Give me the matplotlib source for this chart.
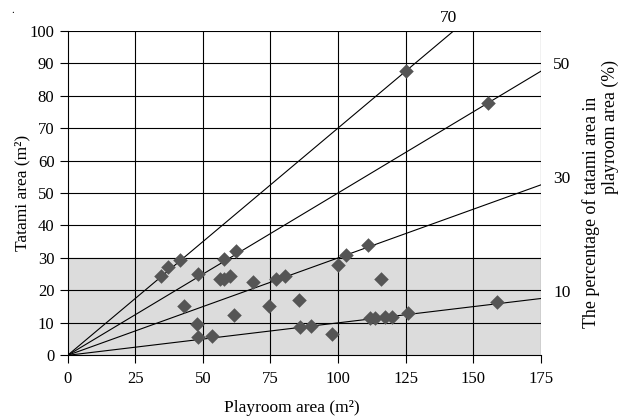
import matplotlib.pyplot as plt
import numpy as np

plt.rcParams['font.family'] = ['Liberation Serif', 'DejaVu Serif']

# playroom area (m2) vs tatami area (m2)
playroom = [34.5, 37.0, 41.7, 48.4, 58.0, 62.4, 56.5, 57.7, 60.2, 68.6,
            42.9, 61.7, 47.9, 48.4, 53.4, 77.2, 80.3, 74.4, 85.5, 85.9,
            90.1, 97.6, 100.1, 102.8, 111.2, 116.0, 111.7, 113.6, 117.3, 119.8,
            126.0, 125.0, 155.3, 158.6]
tatami = [24.5, 27.2, 29.3, 25.2, 29.6, 32.1, 23.5, 23.5, 24.5, 22.6,
          15.3, 12.4, 9.7, 5.6, 5.8, 23.4, 24.4, 15.2, 17.0, 8.7,
          9.0, 6.5, 27.8, 30.8, 33.9, 23.5, 11.4, 11.4, 11.7, 11.7,
          12.9, 87.7, 77.6, 16.3]
ratios = [70, 50, 30, 10]  # % lines

fig = plt.figure(figsize=(6.26, 4.2), dpi=100)
ax = fig.add_axes([0.108, 0.154, 0.756, 0.773])

ax.axhspan(0, 30, color='#dcdcdc', zorder=0)
for yv in range(10, 101, 10):
    ax.axhline(yv, color='black', lw=0.8, zorder=1)
for xv in range(25, 176, 25):
    ax.axvline(xv, color='black', lw=0.8, zorder=1)

xs = np.array([0, 175])
for r in ratios:
    ax.plot(xs, xs * r / 100, color='black', lw=0.8, zorder=2)
    yend = 175 * r / 100
    if yend > 100:
        ax.text(100 / (r / 100) - 2, 104, str(r), ha='center', va='center',
                fontsize=12.5, clip_on=False)
    else:
        ax.text(179.5, yend + 1.8, str(r), ha='left', va='center',
                fontsize=12.5, clip_on=False)

ax.scatter(playroom, tatami, marker='D', s=55, color='#555555', zorder=3, linewidths=0)

ax.set_xlim(0, 175)
ax.set_ylim(0, 100)
ax.set_xticks(range(0, 176, 25))
ax.set_yticks(range(0, 101, 10))
ax.tick_params(labelsize=12, direction='out', length=6, width=0.8)
ax.tick_params(axis='x', pad=5)
for s in ['top', 'right']:
    ax.spines[s].set_visible(False)
ax.spines['left'].set_linewidth(0.8)
ax.spines['bottom'].set_linewidth(0.8)

ax.set_xlabel('Playroom area (m²)', fontsize=12.5, va='center')
ax.xaxis.set_label_coords(0.474, -0.162)
ax.set_ylabel('Tatami area (m²)', fontsize=12.5, va='center')
ax.yaxis.set_label_coords(-0.096, 0.5)

fig.text(591 / 626, 1 - 212 / 420, 'The percentage of tatami area in',
         rotation=90, ha='center', va='center', fontsize=12.9)
fig.text(610 / 626, 1 - 127 / 420, 'playroom area (%)',
         rotation=90, ha='center', va='center', fontsize=12.9)
fig.text(0.02, 0.975, '.', fontsize=8, ha='center', va='center')

fig.savefig('out.png', dpi=100)
